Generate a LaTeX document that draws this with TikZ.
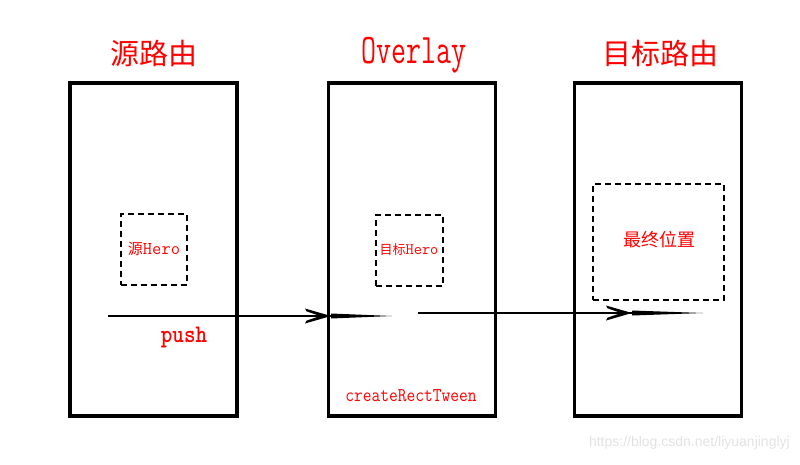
\documentclass[tikz,border=0pt]{standalone}
\usepackage{fontspec}
\newfontfamily\cjk{Noto Sans CJK SC}
\newfontfamily\wmfont{Liberation Sans}
\definecolor{wm}{RGB}{226,226,226}
\tikzset{
  frame/.style={draw=black, line width=3.5pt, minimum width=167pt, minimum height=333pt, inner sep=0pt},
  herobox/.style={draw=black, line width=1.5pt, dash pattern=on 6pt off 4pt, inner sep=0pt},
  redtxt/.style={text=red, inner sep=0pt},
  conn/.style={draw=black, line width=1.5pt},
  taper/.style={fill=black},
}
\newcommand\headat[1]{%
  \fill[taper] (#1) -- ++(-26,-7.5) -- ++(1.5,2.8) -- ++(12,4.2) -- ++(0,1) -- ++(-12,4.2) -- ++(-1.5,2.8) -- cycle;}
\begin{document}
\begin{tikzpicture}[x=1pt,y=-1pt]
\useasboundingbox (0,0) rectangle (800,464);
% frames
\node[frame] (src) at (153.5,249.5) {};
\node[frame] (ovl) at (412,249.5) {};
\node[frame] (dst) at (658,249.5) {};
% titles
\node[redtxt, font=\cjk\fontsize{29}{32}\selectfont] (t1) at (154,53) {源路由};
\node[redtxt] (t2) at (414,55) {\scalebox{1}[1.45]{\ttfamily\fontsize{29}{32}\selectfont Overlay}};
\node[redtxt, font=\cjk\fontsize{29}{32}\selectfont] (t3) at (660,53) {目标路由};
% dashed boxes
\node[herobox, minimum width=66pt, minimum height=71pt] (h1) at (154,249.5) {};
\node[redtxt] (h1t) at (154,249) {\cjk\fontsize{15}{18}\selectfont 源\ttfamily\fontsize{18}{20}\selectfont Hero};
\node[herobox, minimum width=67pt, minimum height=71pt] (h2) at (409.5,250.5) {};
\node[redtxt] (h2t) at (409,250) {\cjk\fontsize{13}{16}\selectfont 目标\ttfamily\fontsize{16}{18}\selectfont Hero};
\node[herobox, minimum width=131pt, minimum height=116pt] (h3) at (658.5,242) {};
\node[redtxt, font=\cjk\fontsize{18}{20}\selectfont] (h3t) at (659,240) {最终位置};
% labels
\node[redtxt] (push) at (184,337) {\scalebox{1}[1.15]{\ttfamily\bfseries\fontsize{22}{24}\selectfont push}};
\node[redtxt] (crt) at (411,396) {\scalebox{1}[1.15]{\ttfamily\fontsize{17}{19}\selectfont createRectTween}};
% connectors
\coordinate (a1s) at (108,316);
\coordinate (a1h) at (331,316);
\coordinate (a1e) at (392,316);
\draw[conn] (a1s) -- (a1h);
\headat{a1h}
\fill[taper] ([yshift=-2.5pt]a1h) -- (a1e) -- ([yshift=2.5pt]a1h) -- cycle;
\coordinate (a2s) at (418,313);
\coordinate (a2h) at (632,313);
\coordinate (a2e) at (703,313);
\draw[conn] (a2s) -- (a2h);
\headat{a2h}
\fill[taper] ([yshift=-2.5pt]a2h) -- (a2e) -- ([yshift=2.5pt]a2h) -- cycle;
% watermark
\node[text=wm, inner sep=0pt, anchor=east, font=\wmfont\fontsize{14}{16}\selectfont] (wmk) at (790,443) {https://blog.csdn.net/liyuanjinglyj};
\end{tikzpicture}
\end{document}
